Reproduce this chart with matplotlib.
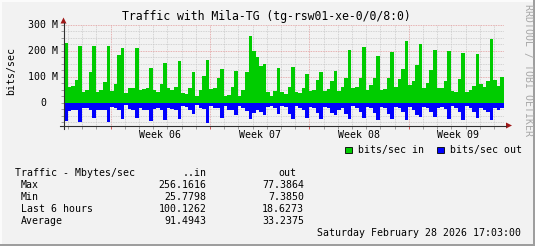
import matplotlib
matplotlib.use("Agg")
import matplotlib.pyplot as plt
import matplotlib.transforms as mtrans
from matplotlib.patches import Rectangle, Polygon
from matplotlib.lines import Line2D

# ---------------- data (6-hour buckets, Mbit/s) ----------------
bits_in = [
    230, 61, 65, 87,   219, 42, 48, 120,  217, 42, 48, 80,   217, 45, 71, 184,
    212, 38, 56, 56,   212, 48, 52, 56,   135, 48, 42, 74,   155, 55, 48, 61,
    160, 36, 32, 58,   118, 26, 49, 105,  164, 52, 56, 95,   130, 27, 30, 62,
    121, 27, 49, 118,  256, 199, 175, 140, 149, 40, 27, 45,  134, 40, 32, 62,
    136, 40, 38, 55,   112, 45, 49, 88,   117, 45, 53, 83,   121, 45, 62, 95,
    204, 56, 62, 97,   216, 49, 69, 97,   181, 49, 53, 95,   195, 62, 92, 132,
    240, 69, 82, 146,  227, 56, 78, 127,  204, 56, 58, 84,   200, 45, 40, 92,
    190, 40, 49, 65,   188, 73, 62, 82,   246, 88, 65, 100,
]
bits_out = [
    71, 32, 30, 30,    75, 21, 19, 27,    60, 27, 27, 27,    75, 17, 19, 27,
    64, 7.4, 23, 27,   60, 19, 30, 30,    69, 23, 19, 30,    66, 19, 23, 27,
    61, 12, 16, 29,    42, 8, 19, 25,     77.4, 12, 19, 22,  58, 12, 29, 29,
    48, 12, 21, 32,    61, 38, 29, 35,    48, 16, 12, 22,    42, 12, 16, 42,
    61, 12, 19, 29,    58, 16, 19, 38,    61, 16, 22, 38,    48, 29, 19, 42,
    61, 12, 19, 35,    58, 16, 22, 38,    68, 16, 22, 42,    61, 16, 22, 35,
    68, 16, 29, 48,    55, 16, 22, 35,    55, 22, 16, 25,    61, 12, 19, 35,
    68, 12, 19, 35,    58, 19, 29, 35,    68, 19, 29, 18.6,
]
step_hours = 6
total_hours = 744            # 31 days ending Sat Feb 28 2026 17:03
first_midnight = 6.95        # hours from start to Jan 29 00:00
first_week = 78.95           # hours from start to Sun Feb 1 00:00
week_labels = ["Week 06", "Week 07", "Week 08", "Week 09"]
ytick_vals = [0, 100, 200, 300]
ytick_labels = ["0", "100 M", "200 M", "300 M"]

title = "Traffic with Mila-TG (tg-rsw01-xe-0/0/8:0)"
stat_header = ["Traffic - Mbytes/sec", "..in", "out"]
stat_rows = ["Max", "Min", "Last 6 hours", "Average"]
stat_in = ["256.1616", "25.7798", "100.1262", "91.4943"]
stat_out = ["77.3864", "7.3850", "18.6273", "33.2375"]
legend_labels = ["bits/sec in", "bits/sec out"]
date_text = "Saturday February 28 2026 17:03:00"

# ---------------- figure ----------------
W, H = 535, 246
BG = "#f2f2f2"
GREEN, BLUE = "#00cc00", "#0000ff"
MONO = "DejaVu Sans Mono"
FS = 7.1

fig = plt.figure(figsize=(W / 100, H / 100), dpi=100)
fig.patch.set_facecolor(BG)
P = mtrans.Affine2D().scale(1 / W, -1 / H).translate(0, 1) + fig.transFigure

x0, x1 = 64.0, 504.0
ytop, ybot = 25.0, 125.5
ax = fig.add_axes([x0 / W, 1 - ybot / H, (x1 - x0) / W, (ybot - ytop) / H])
ax.set_facecolor(BG)
ax.set_xlim(0, total_hours)
ax.set_ylim(-88, 300)
for s in ax.spines.values():
    s.set_visible(False)

n = len(bits_in)
xs = [i * step_hours for i in range(n)]
ax.bar(xs, bits_in, width=step_hours, align="edge", color=GREEN, linewidth=0, zorder=3)
ax.bar(xs, [-v for v in bits_out], width=step_hours, align="edge", color=BLUE, linewidth=0, zorder=3)

# grid
days = [first_midnight + 24 * i for i in range(31) if first_midnight + 24 * i < total_hours]
weeks = [first_week + 168 * i for i in range(4)]
minor_days = [d for d in days if all(abs(d - w) > 1 for w in weeks)]
ax.set_xticks(weeks)
ax.set_xticks(minor_days, minor=True)
ax.set_yticks(ytick_vals)
ax.set_yticks([v for v in range(-75, 300, 25) if v % 100 != 0], minor=True)
ax.grid(which="minor", color="#c8c8c8", linestyle=(0, (1, 1)), linewidth=0.6, zorder=1)
ax.grid(which="major", color="#e39a9a", linestyle=(0, (1, 1)), linewidth=0.6, zorder=1)
ax.tick_params(axis="x", which="both", labelbottom=False, direction="out", length=2.5, width=0.6)
ax.tick_params(axis="x", which="major", color="#d04040")
ax.tick_params(axis="x", which="minor", color="#909090")
ax.tick_params(axis="y", which="both", labelleft=False, direction="out", length=2, width=0.6, color="#909090")

# y tick labels
yl = mtrans.blended_transform_factory(P, ax.transData)
for v, lab in zip(ytick_vals, ytick_labels):
    xr = 58.3 if lab != "0" else 46.3
    ax.text(xr, v, lab, transform=yl, ha="right", va="center", family=MONO, size=FS)

# week labels
wl = mtrans.blended_transform_factory(ax.transData, P)
for w, lab in zip(weeks, week_labels):
    ax.text(w + 84, 134.5, lab, transform=wl, ha="center", va="center", family=MONO, size=FS, clip_on=False)

# axes lines and arrows
AX = "#303030"
AR = "#a01818"
fig.add_artist(Line2D([60, 506], [125.5, 125.5], transform=P, color=AX, linewidth=0.8))
fig.add_artist(Line2D([63.5, 63.5], [128.5, 23], transform=P, color=AX, linewidth=0.8))
fig.add_artist(Polygon([[506, 122.5], [512, 125.5], [506, 128.5]], closed=True, transform=P, color=AR, linewidth=0))
fig.add_artist(Polygon([[60.5, 23.5], [63.5, 17.5], [66.5, 23.5]], closed=True, transform=P, color=AR, linewidth=0))

# texts
fig.text(266, 16.5, title, transform=P, ha="center", va="center", family=MONO, size=8.3)
fig.text(11.5, 71, "bits/sec", transform=P, ha="center", va="center", rotation=90, family=MONO, size=FS)
fig.text(527.5, 4, "RRDTOOL / TOBI OETIKER", transform=P, ha="center", va="top", rotation=270,
         family=MONO, size=FS, color="#a8a8a8")

# legend
for (sx, tx), lab, col in zip([(344.7, 357.7), (436.9, 449.8)], legend_labels, [GREEN, BLUE]):
    fig.add_artist(Rectangle((sx, 146.5), 6.8, 6.8, transform=P, facecolor=col, edgecolor="#000000", linewidth=0.6))
    fig.text(tx, 149.8, lab, transform=P, ha="left", va="center", family=MONO, size=FS)

# stats table
fig.text(15, 173.3, stat_header[0], transform=P, ha="left", va="center", family=MONO, size=FS)
fig.text(206.5, 173.3, stat_header[1], transform=P, ha="right", va="center", family=MONO, size=FS)
fig.text(296, 173.3, stat_header[2], transform=P, ha="right", va="center", family=MONO, size=FS)
row_y = [185.3, 197.3, 209.3, 221.2]
for y, lab, vi, vo in zip(row_y, stat_rows, stat_in, stat_out):
    fig.text(20.8, y, lab, transform=P, ha="left", va="center", family=MONO, size=FS)
    fig.text(206.5, y, vi, transform=P, ha="right", va="center", family=MONO, size=FS)
    fig.text(303.8, y, vo, transform=P, ha="right", va="center", family=MONO, size=FS)
fig.text(521.2, 233.3, date_text, transform=P, ha="right", va="center", family=MONO, size=FS)

# frame
fig.add_artist(Rectangle((0, 0), W, 1.5, transform=P, facecolor="#fbfbfb", linewidth=0))
fig.add_artist(Rectangle((0, 0), 1.5, H, transform=P, facecolor="#fbfbfb", linewidth=0))
fig.add_artist(Rectangle((0, H - 2), W, 2, transform=P, facecolor="#9e9e9e", linewidth=0))
fig.add_artist(Rectangle((W - 2, 0), 2, H, transform=P, facecolor="#9e9e9e", linewidth=0))

fig.savefig("out.png", dpi=100, facecolor=BG)
